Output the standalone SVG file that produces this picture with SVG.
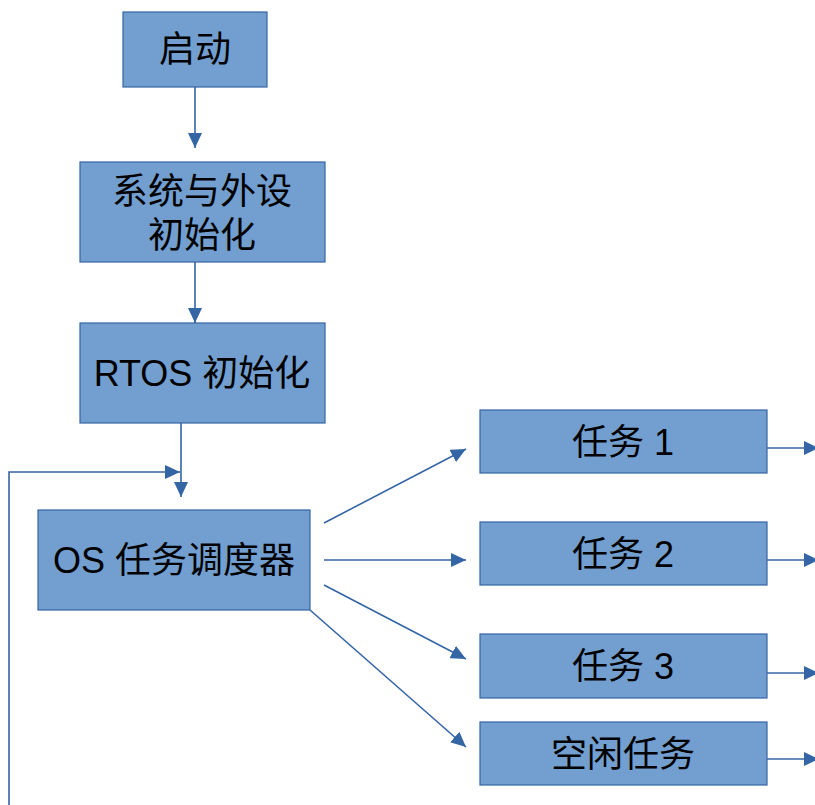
<svg xmlns="http://www.w3.org/2000/svg" width="815" height="805" viewBox="0 0 815 805">
<defs>
<style>
.box{fill:#729fcf;stroke:#3465a4;stroke-width:1.2}
.lbl{font-family:"Liberation Sans","Noto Sans CJK SC",sans-serif;font-size:36px;fill:#000;text-anchor:middle}
.con{fill:none;stroke:#3465a4;stroke-width:1.6}
</style>
<marker id="ah" markerUnits="userSpaceOnUse" markerWidth="16" markerHeight="14" refX="15" refY="7" orient="auto" viewBox="0 0 16 14">
<path d="M0,0 L15,7 L0,14 z" fill="#3465a4"/>
</marker>
</defs>
<rect width="815" height="805" fill="#fff"/>
<g id="start"><rect class="box" x="123" y="12" width="144" height="75"/><text class="lbl" x="195" y="62">启动</text></g>
<g id="sysinit"><rect class="box" x="80" y="162" width="245" height="100"/><text class="lbl" x="202" y="204">系统与外设</text><text class="lbl" x="202" y="248">初始化</text></g>
<g id="rtosinit"><rect class="box" x="80" y="323" width="245" height="100"/><text class="lbl" x="202" y="386">RTOS 初始化</text></g>
<g id="scheduler"><rect class="box" x="38" y="510" width="272" height="100"/><text class="lbl" x="174" y="573">OS 任务调度器</text></g>
<g id="task1"><rect class="box" x="480" y="410" width="287" height="63"/><text class="lbl" x="623" y="455">任务 1</text></g>
<g id="task2"><rect class="box" x="480" y="522" width="287" height="63"/><text class="lbl" x="623" y="567">任务 2</text></g>
<g id="task3"><rect class="box" x="480" y="634" width="287" height="64"/><text class="lbl" x="623" y="679">任务 3</text></g>
<g id="idle"><rect class="box" x="480" y="722" width="287" height="63"/><text class="lbl" x="623" y="767">空闲任务</text></g>
<g id="connectors">
<line class="con" x1="195" y1="87" x2="195" y2="148" marker-end="url(#ah)"/>
<line class="con" x1="195" y1="262" x2="195" y2="323" marker-end="url(#ah)"/>
<line class="con" x1="181" y1="423" x2="181" y2="497" marker-end="url(#ah)"/>
<polyline class="con" points="9,805 9,472 180,472" marker-end="url(#ah)"/>
<line class="con" x1="324" y1="523" x2="466" y2="449" marker-end="url(#ah)"/>
<line class="con" x1="324" y1="560" x2="466" y2="560" marker-end="url(#ah)"/>
<line class="con" x1="324" y1="585" x2="466" y2="659" marker-end="url(#ah)"/>
<line class="con" x1="310" y1="610" x2="466" y2="747" marker-end="url(#ah)"/>
<line class="con" x1="767" y1="448" x2="819" y2="448" marker-end="url(#ah)"/>
<line class="con" x1="767" y1="560" x2="819" y2="560" marker-end="url(#ah)"/>
<line class="con" x1="767" y1="673" x2="819" y2="673" marker-end="url(#ah)"/>
<line class="con" x1="767" y1="759" x2="819" y2="759" marker-end="url(#ah)"/>
</g>
</svg>
